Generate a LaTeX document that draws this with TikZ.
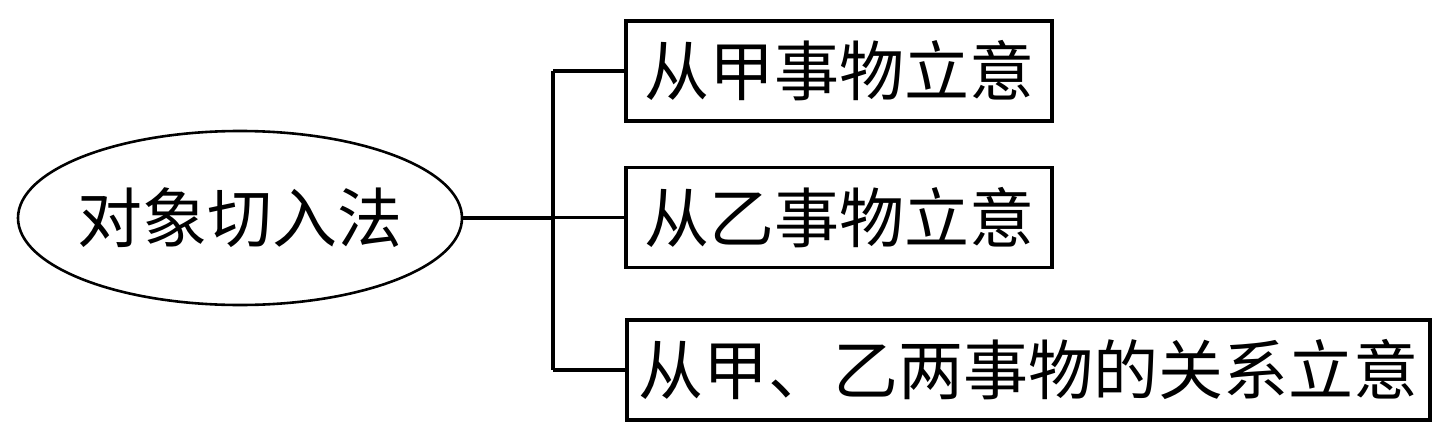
\documentclass[tikz,border=0pt]{standalone}
\usepackage{fontspec}
\newfontfamily\cjk{Noto Sans CJK SC}
\usetikzlibrary{shapes.geometric}
\begin{document}
\begin{tikzpicture}[x=1pt,y=-1pt,
  lw/.style={line width=3.2pt},
  itembox/.style={draw,lw,rectangle,inner sep=0pt,minimum height=100pt,font=\cjk\fontsize{65}{65}\selectfont},
  rootell/.style={draw,line width=2.6pt,ellipse,inner sep=0pt,minimum width=444pt,minimum height=174pt,font=\cjk\fontsize{65}{65}\selectfont},
  conn/.style={lw}]
\useasboundingbox (0,0) rectangle (1439,436);
\node[rootell] (root) at (240,218) {\makebox[0pt]{对象切入法}};
\node[itembox,minimum width=426pt] (b1) at (839,71) {从甲事物立意};
\node[itembox,minimum width=426pt] (b2) at (839,217.5) {从乙事物立意};
\node[itembox,minimum width=803pt] (b3) at (1028.5,370) {从甲、乙两事物的关系立意};
\coordinate (j) at (553,218);
\draw[conn] (root.east) -- (j);
\draw[conn] (j |- b1.west) -- (j |- b3.west);
\draw[conn] (j |- b1.west) -- (b1.west);
\draw[conn] (j |- b2.west) -- (b2.west);
\draw[conn] (j |- b3.west) -- (b3.west);
\end{tikzpicture}
\end{document}
